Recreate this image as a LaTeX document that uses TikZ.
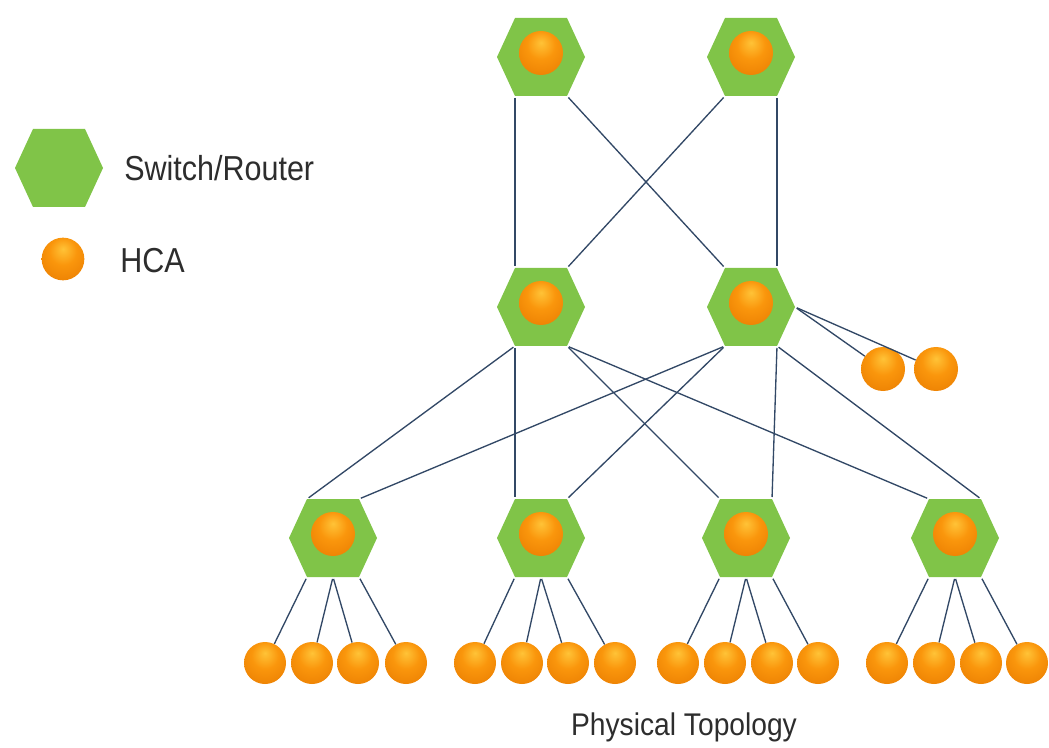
\documentclass[tikz,border=0pt]{standalone}
\usepackage{fontspec}
\setmainfont{Liberation Sans}
\usetikzlibrary{calc}
\definecolor{hexgreen}{RGB}{128,196,72}
\definecolor{linecol}{RGB}{50,72,102}
\definecolor{txt}{RGB}{45,45,45}
\definecolor{hcaA}{RGB}{255,195,55}
\definecolor{hcaB}{RGB}{250,150,12}
\definecolor{hcaC}{RGB}{232,122,0}
\definecolor{hcaD}{RGB}{160,100,30}
\pgfdeclareradialshading{hcashade}{\pgfpoint{0bp}{12bp}}{color(0bp)=(hcaA); color(16bp)=(hcaB); color(40bp)=(hcaC); color(52bp)=(hcaD); color(64bp)=(hcaD)}
\tikzset{
  hca/.style={circle, inner sep=0pt, minimum size=31.5pt, shading=hcashade},
  hcabig/.style={hca, minimum size=33pt},
  link/.style={draw=linecol, line width=1pt, shorten <=1.5pt, shorten >=1.5pt},
  leaflink/.style={draw=linecol, line width=1pt, shorten <=1.5pt},
  lbl/.style={text=txt, inner sep=0pt, font=\fontsize{26}{30}\selectfont}
}
\newcommand\hexsw[3]{%
  \begin{scope}[shift={(#2,#3)}]
    \fill[hexgreen] (-44,0) -- (-26,-39) -- (26,-39) -- (44,0) -- (26,39) -- (-26,39) -- cycle;
    \coordinate (#1-tl) at (-26,-39);
    \coordinate (#1-tr) at (26,-39);
    \coordinate (#1-bl) at (-26,39);
    \coordinate (#1-bc) at (0,39);
    \coordinate (#1-br) at (26,39);
    \coordinate (#1-r) at (44,0);
    \node[hcabig] (#1) at (0,-4) {};
  \end{scope}}
\begin{document}
\begin{tikzpicture}[x=0.75pt, y=-0.75pt]
\fill[white] (0,0) rectangle (1049,748);
\useasboundingbox (0,0) rectangle (1049,748);
% legend
\fill[hexgreen] (15,168) -- (33,129) -- (85,129) -- (103,168) -- (85,207) -- (33,207) -- cycle;
\node[lbl, anchor=west] (lsw) at (124,168) {\scalebox{0.88}[1]{Switch/Router}};
\node[hca, minimum size=32pt] (lhca) at (63,259) {};
\node[lbl, anchor=west] (lhcat) at (120,261) {\scalebox{0.88}[1]{HCA}};
% switches
\hexsw{T1}{541}{57}
\hexsw{T2}{751}{57}
\hexsw{M1}{541}{307}
\hexsw{M2}{751}{307}
\hexsw{B1}{333}{538}
\hexsw{B2}{541}{538}
\hexsw{B3}{746}{538}
\hexsw{B4}{955}{538}
% top to middle
\draw[link] (T1-bl) -- (M1-tl);
\draw[link] (T1-br) -- (M2-tl);
\draw[link] (T2-bl) -- (M1-tr);
\draw[link] (T2-br) -- (M2-tr);
% middle to bottom
\draw[link] (M1-bl) -- (B1-tl);
\draw[link] (M1-bl) -- (B2-tl);
\draw[link] (M1-br) -- (B3-tl);
\draw[link] (M1-br) -- (B4-tl);
\draw[link] (M2-bl) -- (B1-tr);
\draw[link] (M2-bl) -- (B2-tr);
\draw[link] (M2-br) -- (B3-tr);
\draw[link] (M2-br) -- (B4-tr);
% extra HCAs
\node[hcabig] (X1) at (883,369) {};
\node[hcabig] (X2) at (936,369) {};
\draw[leaflink] (M2-r) -- (X1);
\draw[leaflink] (M2-r) -- (X2);
% leaves
\foreach \g/\a/\b/\c/\d in {1/265/312/358/406, 2/475/522/568/615, 3/678/725/772/818, 4/887/934/981/1027}{
  \node[hca] (L\g a) at (\a,663) {};
  \node[hca] (L\g b) at (\b,663) {};
  \node[hca] (L\g c) at (\c,663) {};
  \node[hca] (L\g d) at (\d,663) {};
  \draw[leaflink] (B\g-bl) -- (L\g a);
  \draw[leaflink] (B\g-bc) -- (L\g b);
  \draw[leaflink] (B\g-bc) -- (L\g c);
  \draw[leaflink] (B\g-br) -- (L\g d);
}
\node[lbl, font=\fontsize{23.5}{27}\selectfont] (title) at (684,727) {\scalebox{0.9}[1]{Physical Topology}};
\end{tikzpicture}
\end{document}
